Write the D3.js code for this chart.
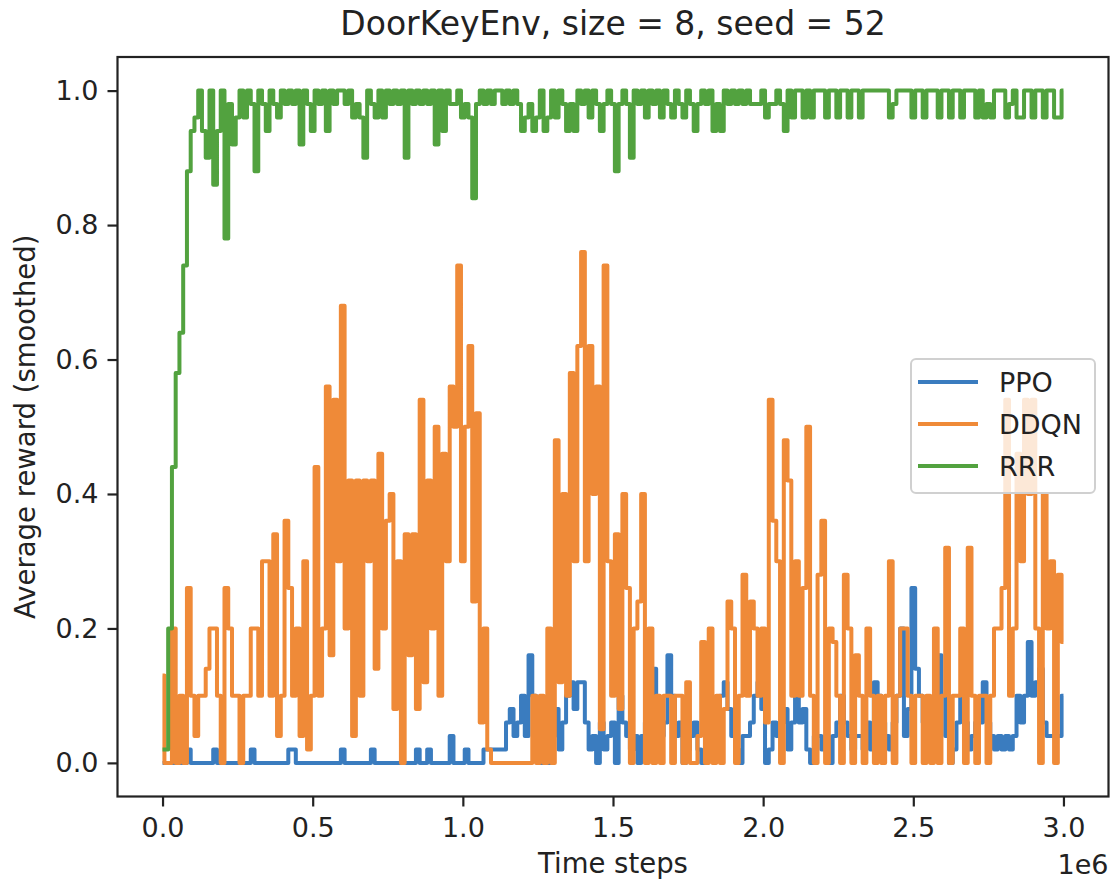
<!DOCTYPE html>
<html>
<head>
<meta charset="utf-8">
<script src="https://cdn.jsdelivr.net/npm/d3@7"></script>
<style>
  body { margin: 0; background: #fff; }
  text { font-family: "DejaVu Sans", sans-serif; fill: #222; }
</style>
</head>
<body>
<svg id="chart"></svg>
<script>
// time steps: one sample every 12 500 steps, 0 .. 3e6
const steps = d3.range(241).map(i => i * 12500);

const ppo = [
  0, 0, 0, 0, 0, 0, 0, 0.02, 0, 0,
  0, 0, 0, 0, 0.02, 0, 0, 0, 0, 0,
  0, 0, 0, 0, 0.02, 0, 0, 0, 0, 0,
  0, 0, 0, 0, 0.02, 0.02, 0, 0, 0, 0,
  0, 0, 0, 0, 0, 0, 0, 0, 0.02, 0,
  0, 0, 0, 0, 0, 0, 0.02, 0, 0, 0,
  0, 0, 0, 0, 0, 0, 0, 0, 0.02, 0,
  0, 0.02, 0, 0, 0, 0, 0, 0.04, 0, 0,
  0, 0.02, 0, 0, 0, 0, 0.02, 0.02, 0.02, 0.02,
  0.02, 0.02, 0.06, 0.08, 0.04, 0.06, 0.1, 0.04, 0.16, 0.1,
  0.02, 0, 0.04, 0, 0.04, 0.08, 0.02, 0.06, 0.1, 0.12,
  0.08, 0.12, 0.12, 0.06, 0.02, 0.04, 0, 0.06, 0.02, 0.04,
  0.06, 0, 0.1, 0.06, 0.04, 0.02, 0.04, 0, 0.04, 0.06,
  0.1, 0.14, 0.06, 0.04, 0.06, 0.16, 0.1, 0.04, 0.06, 0,
  0.02, 0.04, 0.06, 0.02, 0, 0.04, 0.02, 0.04, 0.04, 0.1,
  0.12, 0.08, 0.04, 0.02, 0, 0.04, 0.04, 0.06, 0.1, 0.12,
  0.08, 0, 0.02, 0.06, 0.04, 0.06, 0.08, 0.02, 0.06, 0.1,
  0.06, 0.08, 0.02, 0, 0.04, 0.04, 0.02, 0.04, 0, 0.04,
  0.06, 0.1, 0.06, 0.04, 0.02, 0.04, 0.04, 0.02, 0.06, 0.02,
  0.12, 0.1, 0.06, 0.04, 0.02, 0.06, 0.1, 0.2, 0.04, 0.08,
  0.26, 0.14, 0.1, 0.06, 0.04, 0.02, 0.06, 0.16, 0.1, 0.04,
  0, 0.02, 0.06, 0.1, 0.06, 0.02, 0.04, 0.06, 0.06, 0.12,
  0.06, 0.04, 0.02, 0.04, 0.02, 0.04, 0.02, 0.04, 0.1, 0.06,
  0.1, 0.18, 0.1, 0.12, 0.14, 0.06, 0.04, 0.04, 0.04, 0.04,
  0.1
];

const ddqn = [
  0.13, 0, 0, 0.2, 0, 0.1, 0, 0.26, 0.1, 0.04,
  0.1, 0.1, 0.14, 0.2, 0.2, 0.1, 0, 0.26, 0.2, 0.1,
  0.1, 0, 0.1, 0.1, 0.2, 0.2, 0.1, 0.3, 0.3, 0.1,
  0.34, 0.04, 0.1, 0.36, 0.26, 0.1, 0.2, 0.04, 0.3, 0.02,
  0.1, 0.44, 0.1, 0.2, 0.56, 0.16, 0.54, 0.3, 0.68, 0.2,
  0.42, 0.04, 0.42, 0.1, 0.42, 0.3, 0.42, 0.14, 0.46, 0.2,
  0.36, 0.4, 0.08, 0.3, 0, 0.34, 0.16, 0.34, 0.08, 0.54,
  0.12, 0.42, 0.2, 0.5, 0.1, 0.46, 0.3, 0.56, 0.5, 0.74,
  0.3, 0.5, 0.62, 0.24, 0.52, 0.06, 0.2, 0.02, 0, 0,
  0, 0, 0, 0, 0, 0, 0, 0, 0, 0.1,
  0, 0.1, 0, 0.2, 0, 0.48, 0.12, 0.4, 0.1, 0.58,
  0.3, 0.62, 0.76, 0.3, 0.62, 0.4, 0.56, 0.05, 0.74, 0.3,
  0.1, 0.34, 0.08, 0.4, 0.26, 0, 0.2, 0.24, 0.4, 0,
  0.2, 0, 0.1, 0, 0.1, 0.1, 0, 0.1, 0.1, 0,
  0.12, 0, 0, 0.04, 0.18, 0, 0.2, 0, 0.1, 0,
  0.08, 0.24, 0.2, 0, 0.1, 0.28, 0.1, 0.24, 0.2, 0.1,
  0.2, 0.06, 0.54, 0.36, 0.3, 0, 0.48, 0.42, 0.1, 0.3,
  0.1, 0.26, 0.5, 0.1, 0, 0.28, 0.36, 0, 0.2, 0.18,
  0.1, 0, 0.28, 0.2, 0, 0.16, 0.1, 0, 0.2, 0.1,
  0, 0.1, 0, 0.1, 0.3, 0, 0.1, 0.2, 0.2, 0.1,
  0, 0.1, 0.1, 0, 0.1, 0, 0.2, 0, 0.1, 0.32,
  0, 0.1, 0.1, 0.2, 0, 0.32, 0.1, 0, 0.1, 0.1,
  0, 0.1, 0.2, 0.2, 0.26, 0.54, 0.1, 0.2, 0.46, 0.3,
  0.54, 0.4, 0.54, 0.2, 0, 0.4, 0.2, 0.3, 0, 0.28,
  0.18
];

const rrr = [
  0.02, 0.02, 0.2, 0.44, 0.58, 0.64, 0.74, 0.88, 0.94, 0.96,
  1, 0.94, 0.9, 1, 0.86, 0.94, 1, 0.78, 0.98, 0.92,
  0.96, 1, 0.96, 1, 0.98, 0.88, 1, 0.98, 0.94, 1,
  0.98, 0.96, 1, 0.98, 1, 0.98, 1, 0.92, 1, 0.98,
  0.94, 1, 0.98, 1, 0.94, 1, 0.98, 1, 1, 0.98,
  1, 0.96, 0.98, 0.96, 0.9, 1, 0.98, 0.96, 1, 0.96,
  1, 0.98, 1, 0.98, 1, 0.9, 1, 0.98, 1, 0.98,
  1, 0.98, 1, 0.92, 1, 0.94, 1, 0.98, 0.98, 1,
  0.96, 0.98, 0.96, 0.84, 0.98, 1, 0.98, 1, 0.98, 1,
  1, 0.98, 1, 0.98, 1, 0.98, 0.94, 0.96, 0.98, 0.94,
  0.96, 1, 0.94, 0.96, 1, 0.96, 1, 0.98, 0.94, 0.98,
  0.94, 1, 0.98, 1, 0.96, 1, 0.98, 0.94, 0.98, 1,
  0.98, 0.88, 0.98, 1, 0.98, 0.9, 1, 0.98, 1, 0.96,
  1, 0.98, 1, 0.96, 1, 0.98, 0.96, 1, 0.98, 0.96,
  1, 0.98, 0.94, 0.98, 1, 0.98, 1, 0.94, 0.98, 0.94,
  1, 0.98, 1, 0.98, 1, 0.98, 1, 0.98, 0.98, 0.98,
  1, 0.96, 0.98, 0.98, 1, 0.98, 0.94, 1, 0.96, 1,
  1, 0.96, 1, 0.96, 1, 1, 1, 0.96, 1, 1,
  0.96, 1, 1, 0.96, 1, 1, 0.96, 1, 1, 1,
  1, 1, 1, 1, 0.96, 0.98, 1, 1, 1, 1,
  0.96, 1, 1, 0.96, 1, 1, 1, 0.96, 1, 1,
  0.96, 1, 1, 0.96, 1, 1, 1, 0.96, 1, 0.96,
  0.98, 0.96, 1, 1, 1, 0.96, 0.98, 1, 0.96, 0.96,
  1, 1, 0.96, 1, 1, 0.96, 1, 1, 0.96, 0.96,
  1
];

const seriesNames = ["PPO", "DDQN", "RRR"];
const seriesValues = [ppo, ddqn, rrr];
const seriesColors = ["#3a7cbf", "#ef8a38", "#52a23f"];

const xTickValues = [0, 500000, 1000000, 1500000, 2000000, 2500000, 3000000];
const xTickLabels = ["0.0", "0.5", "1.0", "1.5", "2.0", "2.5", "3.0"];
const yTickValues = [0, 0.2, 0.4, 0.6, 0.8, 1.0];
const yTickLabels = ["0.0", "0.2", "0.4", "0.6", "0.8", "1.0"];

const width = 1118, height = 890;
const margin = { top: 57, right: 9.5, bottom: 93.5, left: 117.5 };
const plotW = width - margin.left - margin.right;
const plotH = height - margin.top - margin.bottom;

const svg = d3.select("#chart")
    .attr("width", width)
    .attr("height", height)
    .attr("viewBox", `0 0 ${width} ${height}`);

let x = d3.scaleLinear().domain([-150000, 3150000]).range([0, plotW]);
let y = d3.scaleLinear().domain([-0.05, 1.05]).range([plotH, 0]);

let g = svg.append("g")
    .attr("transform", `translate(${margin.left}, ${margin.top})`);

// dense raw logs read as near-vertical jumps, so step between samples
let line = d3.line()
    .curve(d3.curveStep)
    .x((d, i) => x(steps[i]))
    .y(d => y(d));

seriesValues.forEach((vals, k) => {
    g.append("path")
        .datum(vals)
        .attr("d", line)
        .attr("fill", "none")
        .attr("stroke", seriesColors[k])
        .attr("stroke-width", 4)
        .attr("stroke-linejoin", "round")
        .attr("stroke-linecap", "butt");
});

// axes
let xAxis = d3.axisBottom(x)
    .tickValues(xTickValues)
    .tickFormat((d, i) => xTickLabels[i])
    .tickSize(10)
    .tickPadding(11)
    .tickSizeOuter(0);

let xg = g.append("g")
    .attr("transform", `translate(0, ${plotH})`)
    .call(xAxis);

let yAxis = d3.axisLeft(y)
    .tickValues(yTickValues)
    .tickFormat((d, i) => yTickLabels[i])
    .tickSize(10)
    .tickPadding(9)
    .tickSizeOuter(0);

let yg = g.append("g").call(yAxis);

[xg, yg].forEach(a => {
    a.select(".domain").remove();
    a.selectAll(".tick line").attr("stroke", "#222").attr("stroke-width", 2.2);
    a.selectAll(".tick text")
        .attr("font-size", 27)
        .attr("font-family", "DejaVu Sans")
        .attr("fill", "#222");
});

// frame
g.append("rect")
    .attr("x", 0)
    .attr("y", 0)
    .attr("width", plotW)
    .attr("height", plotH)
    .attr("fill", "none")
    .attr("stroke", "#222")
    .attr("stroke-width", 2.2);

// offset text
g.append("text")
    .attr("x", plotW)
    .attr("y", plotH + 77)
    .attr("text-anchor", "end")
    .attr("font-size", 27)
    .text("1e6");

// labels
svg.append("text")
    .attr("x", margin.left + plotW / 2)
    .attr("y", 873)
    .attr("text-anchor", "middle")
    .attr("font-size", 27.5)
    .text("Time steps");

svg.append("text")
    .attr("transform", `translate(35, ${margin.top + plotH / 2}) rotate(-90)`)
    .attr("text-anchor", "middle")
    .attr("font-size", 27.5)
    .text("Average reward (smoothed)");

svg.append("text")
    .attr("x", margin.left + plotW / 2)
    .attr("y", 35)
    .attr("text-anchor", "middle")
    .attr("font-size", 33)
    .text("DoorKeyEnv, size = 8, seed = 52");

// legend
let legend = svg.append("g").attr("transform", "translate(911, 359)");

legend.append("rect")
    .attr("width", 184)
    .attr("height", 134)
    .attr("rx", 5)
    .attr("fill", "#fff")
    .attr("fill-opacity", 0.8)
    .attr("stroke", "#d0d0d0")
    .attr("stroke-width", 2);

seriesNames.forEach((name, k) => {
    let row = legend.append("g").attr("transform", `translate(0, ${23 + k * 42})`);
    row.append("line")
        .attr("x1", 7).attr("x2", 67)
        .attr("stroke", seriesColors[k])
        .attr("stroke-width", 4);
    row.append("text")
        .attr("x", 88)
        .attr("y", 10)
        .attr("font-size", 27)
        .text(name);
});
</script>
</body>
</html>
